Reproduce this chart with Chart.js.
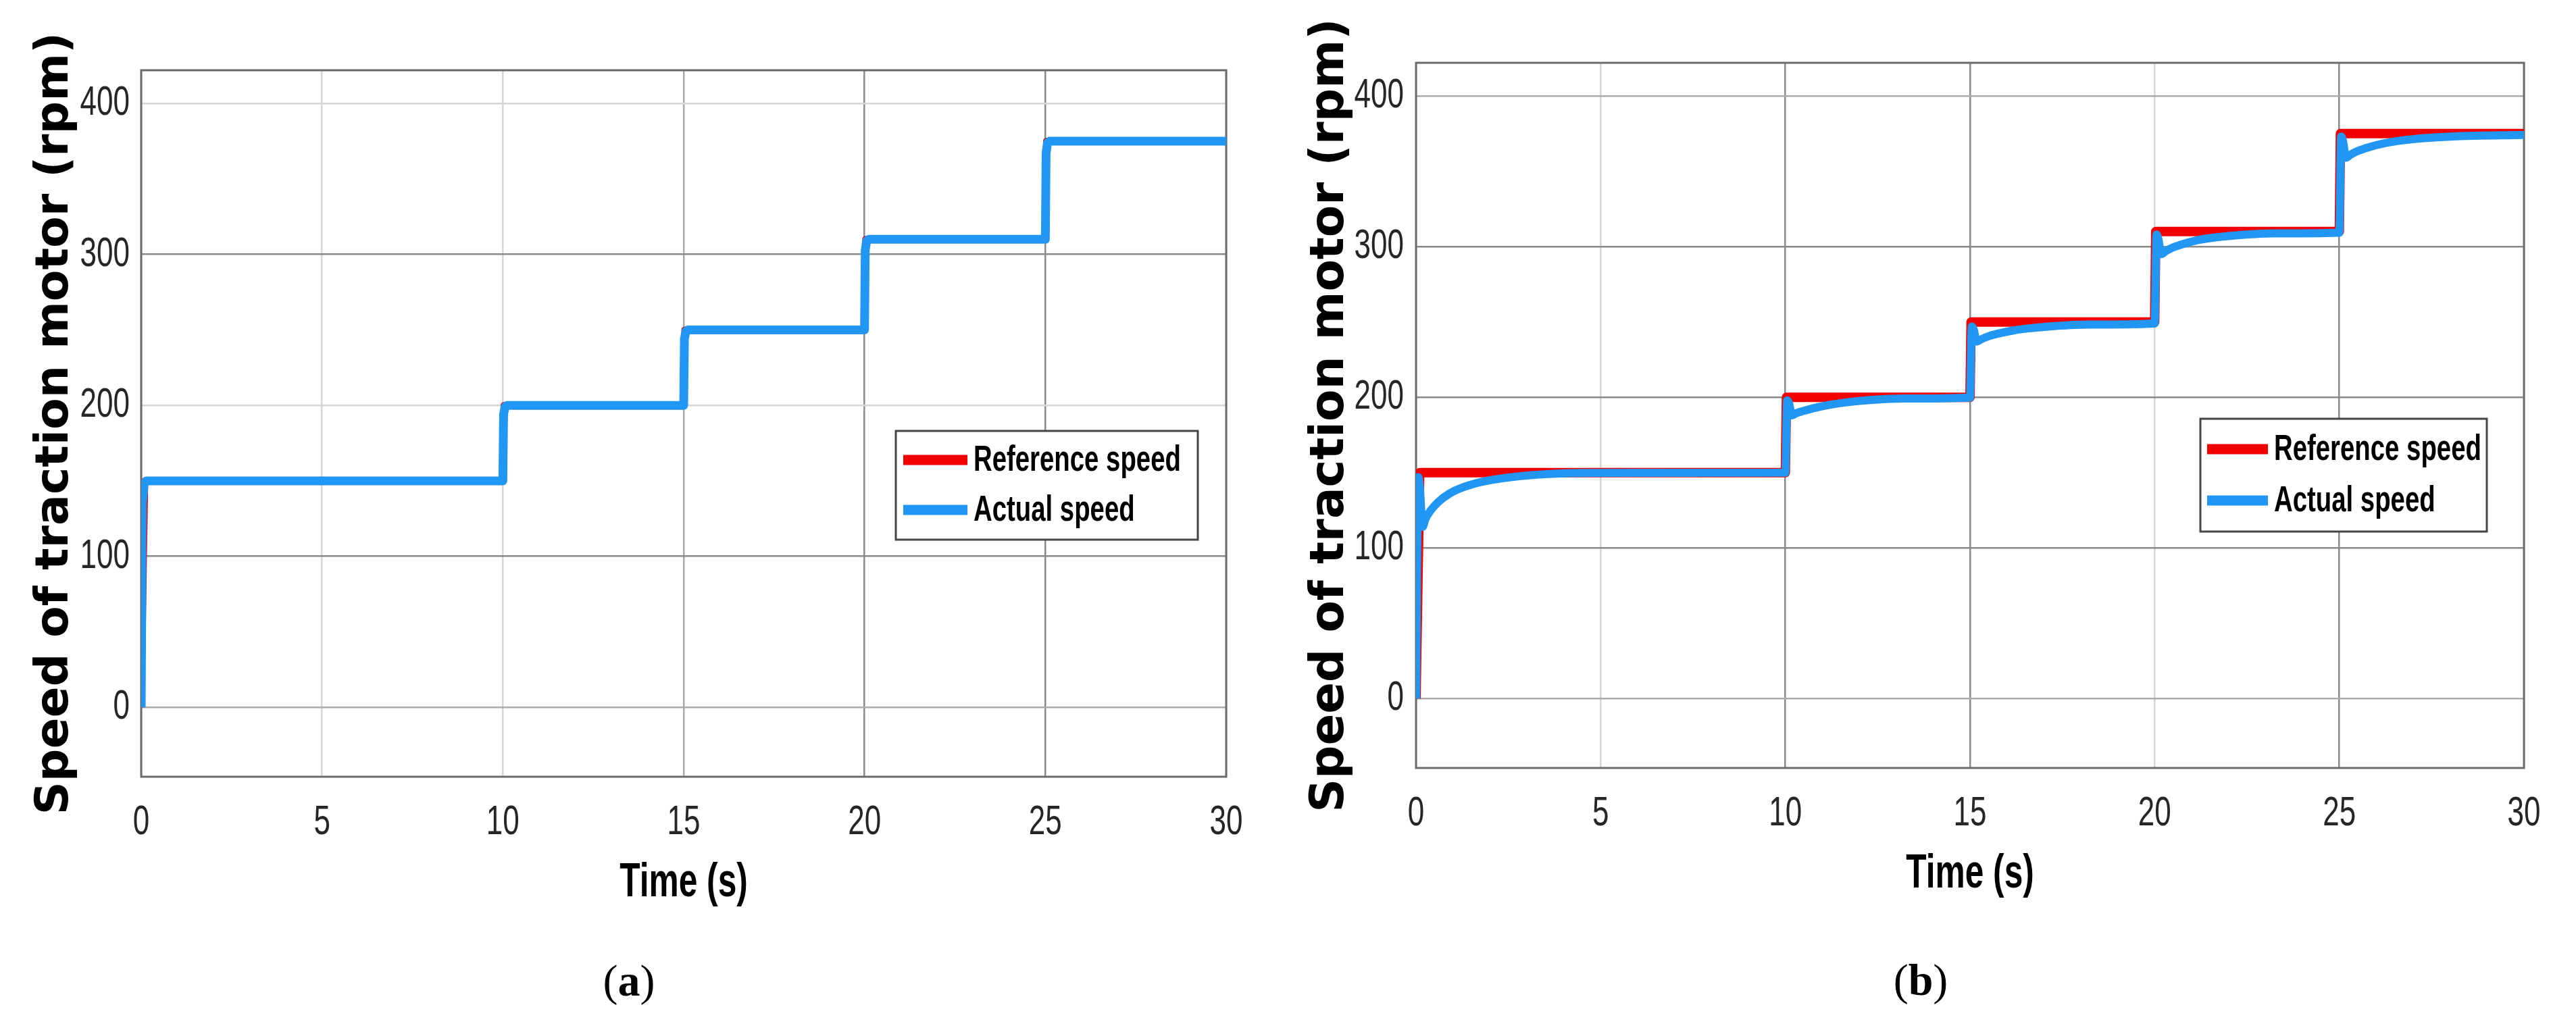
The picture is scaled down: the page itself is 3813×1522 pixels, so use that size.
<!DOCTYPE html>
<html><head><meta charset="utf-8">
<script src="https://cdn.jsdelivr.net/npm/chart.js@4.4.1/dist/chart.umd.min.js"></script>
<style>
html,body{margin:0;padding:0;background:#fff;width:3813px;height:1522px;overflow:hidden;position:relative}
canvas{position:absolute;top:0}
#cA{left:0}#cB{left:1906px}
.sub{position:absolute;font-family:"Liberation Serif","Times New Roman",serif;font-size:66px;color:#000;transform:translate(-50%,-50%);line-height:1;white-space:nowrap}
.sub b{font-weight:bold}
</style></head><body>
<canvas id="cA" width="1906" height="1522"></canvas>
<canvas id="cB" width="1907" height="1522"></canvas>
<div class="sub" style="left:931px;top:1452px">(<b>a</b>)</div>
<div class="sub" style="left:2843px;top:1451px">(<b>b</b>)</div>
<script>
// ---------- data ----------
const xTicks = [0, 5, 10, 15, 20, 25, 30];
const yTicks = [0, 100, 200, 300, 400];
const seriesLabels = ['Reference speed', 'Actual speed'];
const xTitle = 'Time (s)';
const yTitle = 'Speed of traction motor (rpm)';

const refTime  = [0, 0.1, 10, 10.03, 15, 15.03, 20, 20.03, 25, 25.03, 30];
const refSpeed = [0, 150, 150, 200, 200, 250, 250, 310, 310, 375, 375];

const actTimeA  = [0, 0.03, 0.08, 0.14, 10, 10.02, 10.06, 10.12, 15, 15.02, 15.06, 15.12, 20, 20.02, 20.06, 20.12, 25, 25.02, 25.06, 25.12, 30];
const actSpeedA = [0, 135, 148, 150, 150, 194, 199, 200, 200, 244, 249, 250, 250, 303, 309, 310, 310, 367, 374, 375, 375];

const actTimeB  = [0, 0.06, 0.1, 0.18, 0.25, 0.4, 0.6, 0.9, 1.3, 1.8, 2.4, 3.2, 4.5, 10,
                   10.05, 10.1, 10.18, 10.3, 10.5, 10.8, 11.2, 11.7, 12.3, 13.2, 15,
                   15.05, 15.1, 15.18, 15.3, 15.5, 15.8, 16.2, 16.7, 17.3, 18.2, 20,
                   20.05, 20.1, 20.18, 20.3, 20.5, 20.8, 21.2, 21.7, 22.3, 23.2, 25,
                   25.05, 25.1, 25.18, 25.3, 25.5, 25.8, 26.2, 26.7, 27.3, 28.2, 30];
const actSpeedB = [0, 147, 141, 114, 119, 125, 130.5, 136, 140.5, 144, 146.5, 148.5, 149.8, 150,
                   198, 196, 188, 189.5, 191, 193, 195, 196.8, 198.2, 199.2, 199.8,
                   247, 245, 237, 238.5, 240.5, 242.5, 244.5, 246, 247.3, 248.3, 249,
                   308, 305, 295, 297, 299.5, 302, 304.5, 306.3, 307.7, 308.8, 309.3,
                   373, 370, 359, 361, 363.5, 366, 368.5, 370.5, 372, 373.3, 374.2];

// ---------- fonts ----------
const NARROW = 'Liberation Sans';   // drawn horizontally condensed (Helvetica Narrow look)
const WIDE = 'DejaVu Sans';
const CONDENSE = 0.71;

// draw Liberation Sans text condensed horizontally on a given context
function condense(ctx, f) {
  const ft = ctx.fillText.bind(ctx), mt = ctx.measureText.bind(ctx);
  const isN = () => ctx.font.indexOf('Liberation Sans') >= 0;
  ctx.fillText = function (t, x, y, mw) {
    if (!isN()) return (mw === undefined || mw === null) ? ft(t, x, y) : ft(t, x, y, mw);
    ctx.save(); ctx.translate(x, y); ctx.scale(f, 1);
    if (mw === undefined || mw === null) ft(t, 0, 0); else ft(t, 0, 0, mw / f);
    ctx.restore();
  };
  ctx.measureText = function (t) {
    const m = mt(t);
    if (!isN()) return m;
    return {
      width: m.width * f,
      actualBoundingBoxLeft: m.actualBoundingBoxLeft * f,
      actualBoundingBoxRight: m.actualBoundingBoxRight * f,
      actualBoundingBoxAscent: m.actualBoundingBoxAscent,
      actualBoundingBoxDescent: m.actualBoundingBoxDescent,
      fontBoundingBoxAscent: m.fontBoundingBoxAscent,
      fontBoundingBoxDescent: m.fontBoundingBoxDescent
    };
  };
}

const RED = '#f20000', BLUE = '#2196f3';
const LIGHT = '#d6d6d6', MID = '#ababab', DARK = '#8a8a8a';

function pts(ts, vs) { return ts.map((t, i) => ({ x: t, y: vs[i] })); }

const framePlugin = {
  id: 'frame',
  beforeDatasetsDraw(ch) {
    const a = ch.chartArea, c = ch.ctx;
    c.save(); c.strokeStyle = '#6b6b6b'; c.lineWidth = 3;
    c.strokeRect(a.left, a.top, a.right - a.left, a.bottom - a.top);
    c.restore();
  }
};
const boxLegendPlugin = {
  id: 'boxLegend',
  afterDraw(ch, args, o) {
    const a = ch.chartArea, c = ch.ctx;
    const L = a.left + o.x, T = a.top + o.y;
    c.save();
    c.fillStyle = '#fff'; c.fillRect(L, T, o.w, o.h);
    c.strokeStyle = '#454545'; c.lineWidth = 3; c.strokeRect(L, T, o.w, o.h);
    c.font = 'bold ' + o.fontSize + 'px "' + NARROW + '"';
    c.textBaseline = 'middle'; c.textAlign = 'left';
    ch.data.datasets.forEach((ds, i) => {
      const y = T + o.rows[i];
      c.strokeStyle = ds.borderColor; c.lineWidth = 15; c.lineCap = 'butt';
      c.beginPath(); c.moveTo(L + o.lineX, y); c.lineTo(L + o.lineX + o.lineLen, y); c.stroke();
      c.fillStyle = '#000'; c.fillText(ds.label, L + o.textX, y + 1);
    });
    c.restore();
  }
};

function makeChart(id, actT, actS, L) {
  const canvas = document.getElementById(id);
  condense(canvas.getContext('2d'), CONDENSE);
  const gridColor = (map) => (ctx) => (ctx.tick && map[ctx.tick.value]) || LIGHT;
  return new Chart(canvas, {
    type: 'line',
    data: {
      datasets: [
        { label: seriesLabels[0], data: pts(refTime, refSpeed), borderColor: RED, backgroundColor: RED,
          borderWidth: L.redW, pointRadius: 0, order: 2, tension: 0, borderJoinStyle: 'round' },
        { label: seriesLabels[1], data: pts(actT, actS), borderColor: BLUE, backgroundColor: BLUE,
          borderWidth: L.blueW, pointRadius: 0, order: 1, cubicInterpolationMode: L.interp, borderJoinStyle: 'round' }
      ]
    },
    options: {
      responsive: false, animation: false, events: [],
      layout: { padding: L.pad },
      plugins: { legend: { display: false }, tooltip: { enabled: false }, boxLegend: L.legend },
      scales: {
        x: {
          type: 'linear', min: 0, max: 30,
          afterBuildTicks: s => { s.ticks = xTicks.map(v => ({ value: v })); },
          afterFit: s => { s.height = 200; },
          border: { display: false },
          grid: { color: gridColor(L.xGrid), lineWidth: 2.5, drawTicks: false },
          ticks: { font: { family: NARROW, size: 62, lineHeight: 1 }, color: '#262626', padding: 37, maxRotation: 0, autoSkip: false },
          title: { display: true, text: xTitle, color: '#000', font: { family: NARROW, size: 70, weight: 'bold', lineHeight: 1 }, padding: { top: 0, bottom: 7 } }
        },
        y: {
          type: 'linear', min: -46, max: 422,
          afterBuildTicks: s => { s.ticks = yTicks.map(v => ({ value: v })); },
          afterFit: s => { s.width = L.yWidth; },
          border: { display: false },
          grid: { color: gridColor(L.yGrid), lineWidth: 2.5, drawTicks: false },
          ticks: { font: { family: NARROW, size: 62, lineHeight: 1 }, color: '#262626', padding: L.yTickPad },
          title: { display: true, text: yTitle, color: '#000', font: { family: WIDE, size: L.yTitleSize, weight: 'bold', lineHeight: 1 }, padding: { top: L.yTitlePad, bottom: 0 } }
        }
      }
    },
    plugins: [framePlugin, boxLegendPlugin]
  });
}

makeChart('cA', actTimeA, actSpeedA, {
  interp: 'default', redW: 10, blueW: 13,
  pad: { left: 0, top: 104, right: 91, bottom: 172 },
  yWidth: 209, yTickPad: 17, yTitlePad: 48, yTitleSize: 68,
  xGrid: { 5: LIGHT, 10: LIGHT, 15: MID, 20: DARK, 25: DARK },
  yGrid: { 0: MID, 100: DARK, 200: LIGHT, 300: DARK, 400: LIGHT },
  legend: { x: 1117, y: 534, w: 447, h: 161, lineX: 11, lineLen: 95, rows: [43, 117], textX: 115, fontSize: 54 }
});
makeChart('cB', actTimeB, actSpeedB, {
  interp: 'monotone', redW: 14, blueW: 12,
  pad: { left: 0, top: 93, right: 77, bottom: 185 },
  yWidth: 190, yTickPad: 18, yTitlePad: 30, yTitleSize: 69,
  xGrid: { 5: LIGHT, 10: DARK, 15: DARK, 20: LIGHT, 25: DARK },
  yGrid: { 0: MID, 100: DARK, 200: DARK, 300: DARK, 400: MID },
  legend: { x: 1161, y: 527, w: 424, h: 167, lineX: 10, lineLen: 90, rows: [45, 121], textX: 109, fontSize: 54 }
});
</script>
</body></html>
